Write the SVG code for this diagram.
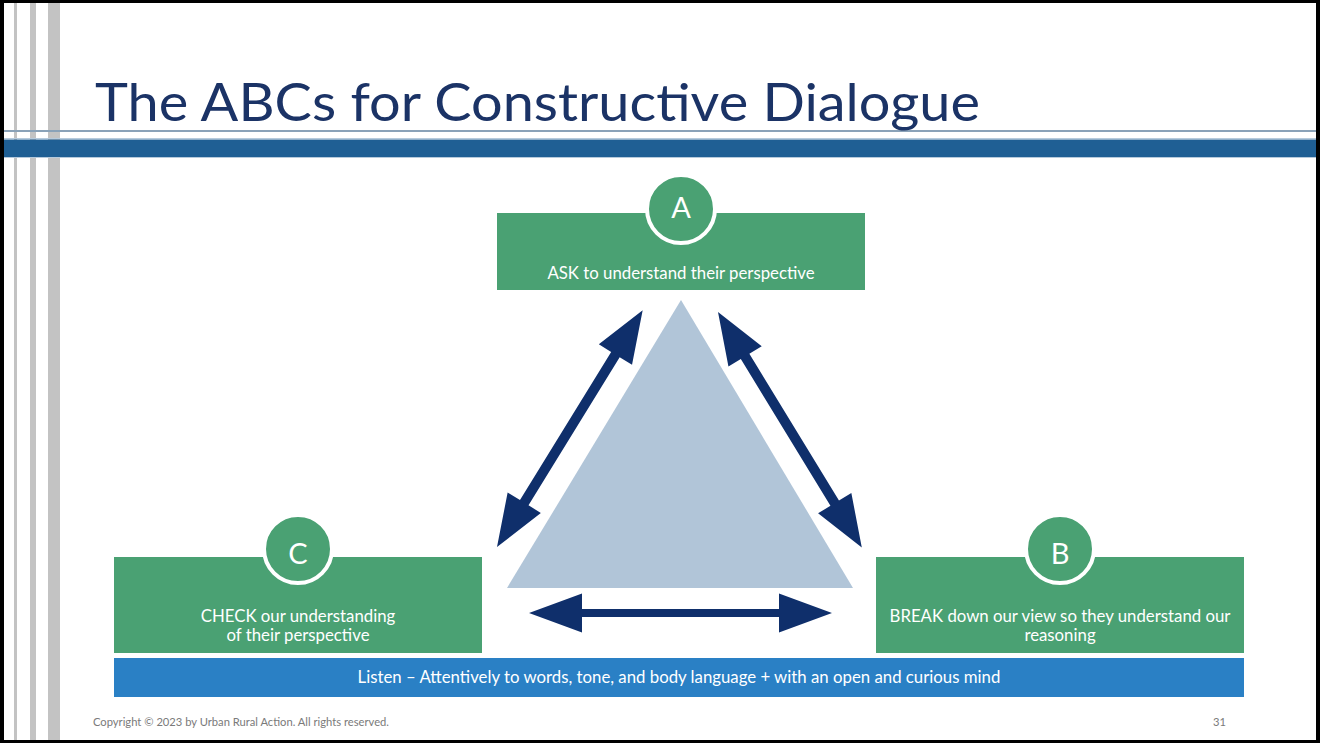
<svg xmlns="http://www.w3.org/2000/svg" width="1320" height="743" viewBox="0 0 1320 743">
<style>
.box{fill:#4aa173}
.circ{fill:#4aa173;stroke:#ffffff;stroke-width:4}
.letter{font-family:Lato,"Noto Sans",sans-serif;font-size:29px;fill:#ffffff;text-anchor:middle}
.lbl{font-family:Lato,"Noto Sans",sans-serif;font-size:16.8px;fill:#ffffff;text-anchor:middle}
.arrow{fill:#0f2f6b}
.bar{fill:#c3c3c3}
.foot{font-family:Lato,"Noto Sans",sans-serif;font-size:11.2px;fill:#7a7a7a}
</style>
<rect x="0" y="0" width="1320" height="743" fill="#000000"/>
<rect x="4" y="3" width="1312" height="737" fill="#ffffff"/>
<g id="decor">
<rect class="bar" x="14" y="3" width="3" height="737"/>
<rect class="bar" x="30" y="3" width="6" height="737"/>
<rect class="bar" x="48" y="3" width="12" height="737"/>
<rect x="4" y="130" width="1312" height="2" fill="#8aa2b8"/>
<rect x="4" y="138" width="1312" height="1" fill="#b6cadc"/>
<rect x="4" y="139.5" width="1312" height="17.5" fill="#1f5f94"/>
<rect x="4" y="157" width="1312" height="1" fill="#b6cadc"/>
</g>
<text id="title" x="95" y="121" font-family="Lato,'Noto Sans',sans-serif" font-size="52" fill="#1b3366" textLength="885" lengthAdjust="spacingAndGlyphs">The ABCs for Constructive Dialogue</text>
<polygon id="triangle" points="681,300 507,588 853,588" fill="#b1c5d8"/>
<g id="connectors">
<path class="arrow" transform="translate(497,547) rotate(-58.4)" d="M0,0 L52,-19.5 L52,-5 L226,-5 L226,-19.5 L278,0 L226,19.5 L226,5 L52,5 L52,19.5 Z"/>
<path class="arrow" transform="translate(718,312) rotate(58.6)" d="M0,0 L52,-19.5 L52,-5 L224,-5 L224,-19.5 L276,0 L224,19.5 L224,5 L52,5 L52,19.5 Z"/>
<path class="arrow" d="M529,613 L582,593.5 L582,609 L779,609 L779,593.5 L832,613 L779,632.5 L779,617 L582,617 L582,632.5 Z"/>
</g>
<g id="nodeA">
<rect class="box" x="497" y="213" width="368" height="77"/>
<circle class="circ" cx="681" cy="209" r="34"/>
<text class="letter" x="681" y="218">A</text>
<text class="lbl" x="681" y="279">ASK to understand their perspective</text>
</g>
<g id="nodeC">
<rect class="box" x="114" y="557" width="368" height="96"/>
<circle class="circ" cx="298" cy="549" r="34"/>
<text class="letter" x="298" y="564">C</text>
<text class="lbl" x="298" y="622">CHECK our understanding</text>
<text class="lbl" x="298" y="641">of their perspective</text>
</g>
<g id="nodeB">
<rect class="box" x="876" y="557" width="368" height="96"/>
<circle class="circ" cx="1060" cy="549" r="34"/>
<text class="letter" x="1060" y="564">B</text>
<text class="lbl" x="1060" y="622">BREAK down our view so they understand our</text>
<text class="lbl" x="1060" y="641">reasoning</text>
</g>
<g id="listen">
<rect x="114" y="658" width="1130" height="39" fill="#2a80c5"/>
<text class="lbl" x="679" y="683">Listen – Attentively to words, tone, and body language + with an open and curious mind</text>
</g>
<text class="foot" x="93" y="726">Copyright © 2023 by Urban Rural Action. All rights reserved.</text>
<text class="foot" x="1213" y="726">31</text>
</svg>
